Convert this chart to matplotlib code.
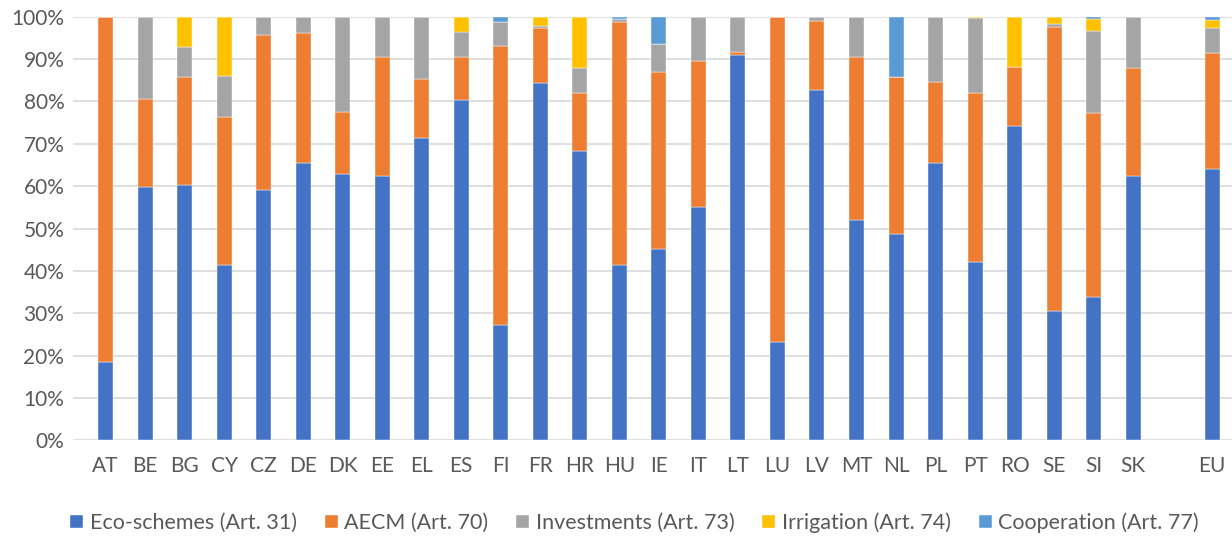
import numpy as np
import matplotlib
matplotlib.use('Agg')
import matplotlib.pyplot as plt
from matplotlib.ticker import PercentFormatter

countries = ['AT', 'BE', 'BG', 'CY', 'CZ', 'DE', 'DK', 'EE', 'EL', 'ES', 'FI', 'FR', 'HR', 'HU',
             'IE', 'IT', 'LT', 'LU', 'LV', 'MT', 'NL', 'PL', 'PT', 'RO', 'SE', 'SI', 'SK', 'EU']

# shares in %
eco_schemes = [18.5, 59.9, 60.2, 41.4, 59.0, 65.4, 62.8, 62.3, 71.3, 80.4, 27.3, 84.3, 68.2, 41.3,
               45.1, 55.1, 91.0, 23.3, 82.7, 52.1, 48.7, 65.5, 42.2, 74.1, 30.6, 33.9, 62.3, 64.1]
aecm = [81.5, 20.7, 25.6, 34.9, 36.8, 30.7, 14.8, 28.1, 13.9, 10.0, 65.8, 13.1, 13.9, 57.4,
        41.8, 34.4, 0.6, 76.7, 16.4, 38.4, 37.0, 19.2, 39.7, 14.1, 66.9, 43.3, 25.6, 27.3]
investments = [0, 19.4, 7.1, 9.7, 4.2, 3.9, 22.4, 9.6, 14.8, 6.1, 5.65, 0.3, 5.8, 0.8,
               6.7, 10.5, 8.4, 0, 0.9, 9.5, 0, 15.3, 17.9, 0, 0.7, 19.4, 12.1, 6.0]
irrigation = [0, 0, 7.1, 14.0, 0, 0, 0, 0, 0, 3.5, 0, 2.3, 12.1, 0,
              0, 0, 0, 0, 0, 0, 0, 0, 0.2, 11.8, 1.8, 2.9, 0, 1.8]
cooperation = [0, 0, 0, 0, 0, 0, 0, 0, 0, 0, 1.25, 0, 0, 0.5,
               6.4, 0, 0, 0, 0, 0, 14.3, 0, 0, 0, 0, 0.5, 0, 0.8]

series = [
    ('Eco-schemes (Art. 31)', eco_schemes, '#4472C4'),
    ('AECM (Art. 70)', aecm, '#ED7D31'),
    ('Investments (Art. 73)', investments, '#A5A5A5'),
    ('Irrigation (Art. 74)', irrigation, '#FFC000'),
    ('Cooperation (Art. 77)', cooperation, '#5B9BD5'),
]

plt.rcParams['font.family'] = ['Lato', 'DejaVu Sans']

# empty slot between SK and EU
x = np.array(list(range(len(countries) - 1)) + [len(countries)])

fig = plt.figure(figsize=(12.32, 5.39), dpi=100)
ax = fig.add_axes([0.059, 0.183, 0.941, 0.786])

bottom = np.zeros(len(countries))
for name, vals, col in series:
    vals = np.array(vals)
    ax.bar(x, vals, width=0.38, bottom=bottom, color=col, label=name,
           edgecolor='white', linewidth=0.3, zorder=3)
    bottom += vals

ax.set_ylim(0, 100)
ax.set_xlim(-0.83, x[-1] + 0.5)
ax.set_yticks(range(0, 101, 10))
ax.yaxis.set_major_formatter(PercentFormatter(decimals=0))
ax.set_xticks(x)
ax.set_xticklabels(countries)
ax.grid(axis='y', color='#D9D9D9', linewidth=1.2, zorder=0)
for s in ax.spines.values():
    s.set_visible(False)
ax.tick_params(length=0, labelsize=15, colors='#595959')
ax.tick_params(axis='x', pad=11)
ax.tick_params(axis='y', pad=6)

handles, labels = ax.get_legend_handles_labels()
fig.legend(handles, labels, loc='center', bbox_to_anchor=(0.515, 0.03), ncol=5, frameon=False,
           fontsize=15.5, handlelength=0.6, handleheight=0.6, handletextpad=0.3,
           columnspacing=1.3, labelcolor='#595959')

fig.savefig('out.png', dpi=100)
